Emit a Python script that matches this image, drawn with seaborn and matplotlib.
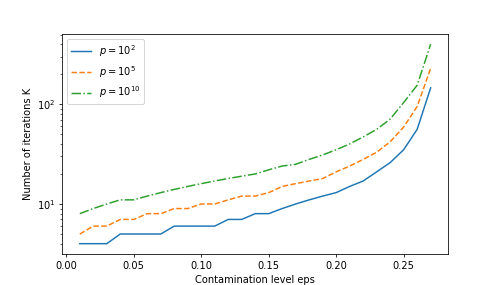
import numpy as np
import pandas as pd
import matplotlib
matplotlib.use("Agg")
import matplotlib.pyplot as plt
import seaborn as sns

# contamination levels
eps = [0.01, 0.02, 0.03, 0.04, 0.05, 0.06, 0.07, 0.08, 0.09, 0.10,
       0.11, 0.12, 0.13, 0.14, 0.15, 0.16, 0.17, 0.18, 0.19, 0.20,
       0.21, 0.22, 0.23, 0.24, 0.25, 0.26, 0.27]

# number of iterations K for each p
k_p2 = [4, 4, 4, 5, 5, 5, 5, 6, 6, 6, 6, 7, 7, 8, 8, 9, 10, 11, 12, 13,
        15, 17, 21, 26, 35, 56, 146]
k_p5 = [5, 6, 6, 7, 7, 8, 8, 9, 9, 10, 10, 11, 12, 12, 13, 15, 16, 17, 18, 21,
        24, 28, 33, 42, 59, 95, 229]
k_p10 = [8, 9, 10, 11, 11, 12, 13, 14, 15, 16, 17, 18, 19, 20, 22, 24, 25, 28, 31, 35,
         40, 47, 56, 71, 104, 155, 400]

labels = [r"$p = 10^{2}$", r"$p = 10^{5}$", r"$p = 10^{10}$"]

df = pd.DataFrame({"eps": eps, labels[0]: k_p2, labels[1]: k_p5, labels[2]: k_p10})

fig, ax = plt.subplots(figsize=(498 / 71.25, 285 / 71.25), dpi=71.25)

styles = ["-", "--", "-."]
colors = ["C0", "C1", "C2"]
for lab, ls, c in zip(labels, styles, colors):
    sns.lineplot(data=df, x="eps", y=lab, ax=ax, label=lab, linestyle=ls, color=c)

ax.set_yscale("log")
ax.set_xlabel("Contamination level eps")
ax.set_ylabel("Number of iterations K")
ax.legend(loc="upper left")

fig.savefig("out.png", dpi=71.25)
